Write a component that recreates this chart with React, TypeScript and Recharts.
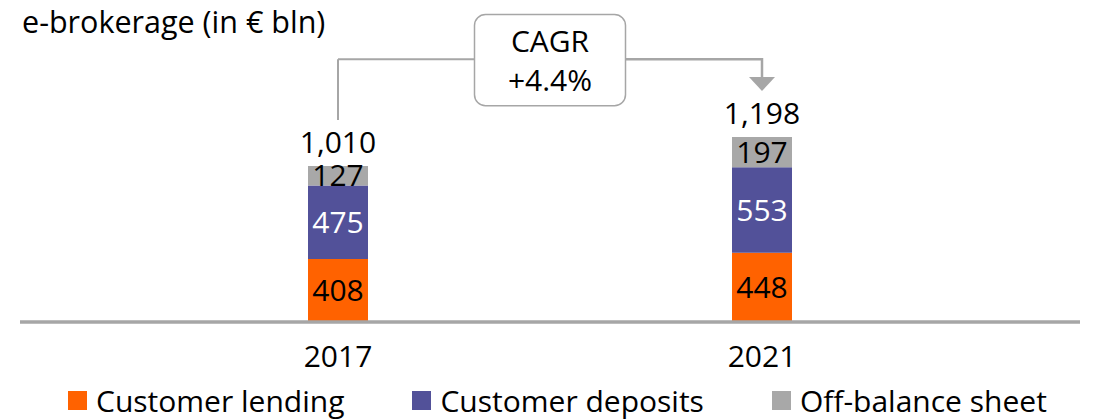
import { useRef } from 'react'
import { BarChart, Bar, XAxis, YAxis, LabelList } from 'recharts'

const years = ['2017', '2021']
const lending = [408, 448]
const deposits = [475, 553]
const offBalance = [127, 197]
const cagrLabel = ['CAGR', '+4.4%']
const title = 'e-brokerage (in € bln)'

const series = [
    { key: 'lending', name: 'Customer lending', color: '#FF6200', label: '#000000' },
    { key: 'deposits', name: 'Customer deposits', color: '#525199', label: '#FFFFFF' },
    { key: 'offBalance', name: 'Off-balance sheet', color: '#A8A8A8', label: '#000000' },
]

const data = years.map((year, i) => ({
    year,
    lending: lending[i],
    deposits: deposits[i],
    offBalance: offBalance[i],
    total: lending[i] + deposits[i] + offBalance[i],
}))

// connector levels in chart units (€ bln)
const CONNECTOR_LEVEL = 1700
const BOX_TOP = 1990
const BOX_BOTTOM = 1400

const FONT = '"Open Sans", sans-serif'
const GREY = '#A6A6A6'

export default function App() {
    const centers = useRef<number[]>([])

    const renderTotal = (props: any) => {
        const { x, y, width, height, index } = props
        const row = data[index]
        const cx = x + width / 2
        const ppu = height / row.offBalance
        const base = y + row.total * ppu
        const lineY = base - CONNECTOR_LEVEL * ppu
        const startY = y - 46
        centers.current[index] = cx

        let extra = null
        if (index === 0) {
            extra = <line x1={cx} y1={startY} x2={cx} y2={lineY} stroke={GREY} strokeWidth={2} />
        } else {
            const x0 = centers.current[0] ?? cx
            const mid = (x0 + cx) / 2
            const boxW = 151
            const boxTop = base - BOX_TOP * ppu
            const boxBottom = base - BOX_BOTTOM * ppu
            extra = (
                <g>
                    <polyline
                        points={`${x0},${lineY} ${mid - boxW / 2},${lineY}`}
                        fill="none"
                        stroke={GREY}
                        strokeWidth={2}
                    />
                    <polyline
                        points={`${mid + boxW / 2},${lineY} ${cx},${lineY} ${cx},${startY - 14}`}
                        fill="none"
                        stroke={GREY}
                        strokeWidth={2.5}
                    />
                    <polygon
                        points={`${cx - 13},${startY - 14} ${cx + 13},${startY - 14} ${cx},${startY}`}
                        fill={GREY}
                    />
                    <rect
                        x={mid - boxW / 2}
                        y={boxTop}
                        width={boxW}
                        height={boxBottom - boxTop}
                        rx={11}
                        fill="#FFFFFF"
                        stroke={GREY}
                        strokeWidth={1.5}
                    />
                    <text x={mid} y={boxTop + 37} textAnchor="middle" fontSize={30} fontFamily={FONT} fill="#000">
                        {cagrLabel[0]}
                    </text>
                    <text x={mid} y={boxTop + 76} textAnchor="middle" fontSize={30} fontFamily={FONT} fill="#000">
                        {cagrLabel[1]}
                    </text>
                </g>
            )
        }

        return (
            <g>
                {extra}
                <text x={cx} y={y - 13} textAnchor="middle" fontSize={30} fontFamily={FONT} fill="#000">
                    {row.total.toLocaleString('en-US')}
                </text>
            </g>
        )
    }

    return (
        <div style={{ position: 'absolute', left: 0, top: 0, width: 1094, height: 420, fontFamily: FONT, background: '#fff' }}>
            <div style={{ position: 'absolute', left: 22, top: 1, fontSize: 30.5, lineHeight: '40px', color: '#000' }}>
                {title}
            </div>
            <BarChart
                width={1094}
                height={420}
                data={data}
                margin={{ top: 13, right: 14, left: 20, bottom: 38 }}
            >
                <YAxis hide domain={[0, 2000]} />
                <XAxis
                    dataKey="year"
                    height={60}
                    padding={{ left: 106, right: 106 }}
                    axisLine={{ stroke: GREY, strokeWidth: 3.5 }}
                    tickLine={false}
                    tickMargin={18}
                    tick={{ fontSize: 30, fill: '#000', fontFamily: FONT }}
                />
                {series.map((s, i) => (
                    <Bar key={s.key} dataKey={s.key} stackId="a" fill={s.color} barSize={60} isAnimationActive={false}>
                        <LabelList dataKey={s.key} position="center" fill={s.label} fontSize={30} fontFamily={FONT} />
                        {i === series.length - 1 && <LabelList dataKey="total" content={renderTotal} />}
                    </Bar>
                ))}
            </BarChart>
            <div
                style={{
                    position: 'absolute',
                    left: 68,
                    top: 382,
                    height: 36,
                    display: 'flex',
                    alignItems: 'center',
                    gap: 68,
                    fontSize: 30,
                    color: '#000',
                }}
            >
                {series.map((s) => (
                    <div key={s.key} style={{ display: 'flex', alignItems: 'center', gap: 9 }}>
                        <span style={{ width: 19, height: 19, background: s.color, display: 'inline-block' }} />
                        <span>{s.name}</span>
                    </div>
                ))}
            </div>
        </div>
    )
}
